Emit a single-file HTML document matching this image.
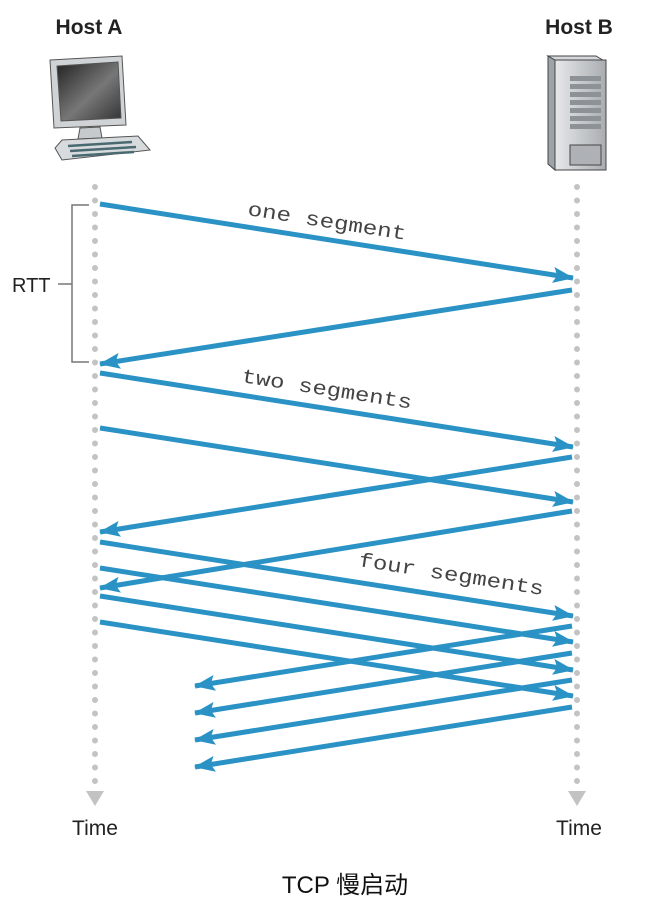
<!DOCTYPE html>
<html><head><meta charset="utf-8"><style>
html,body{margin:0;padding:0;background:#fff;}
svg{display:block;}
</style></head><body>
<svg width="646" height="915" viewBox="0 0 646 915" xmlns="http://www.w3.org/2000/svg">
<defs>
<marker id="ah" markerWidth="22" markerHeight="18" refX="20" refY="9" orient="auto" markerUnits="userSpaceOnUse">
<path d="M0,1 L21,9 L0,17 L4,9 Z" fill="#2a92c4"/>
</marker>
<linearGradient id="scr" x1="0" y1="0" x2="1" y2="1">
<stop offset="0" stop-color="#222"/><stop offset="0.55" stop-color="#777"/><stop offset="1" stop-color="#333"/>
</linearGradient>
<linearGradient id="srv" x1="0" y1="0" x2="1" y2="0">
<stop offset="0" stop-color="#e6e8ea"/><stop offset="1" stop-color="#a9adb1"/>
</linearGradient>
</defs>
<g font-family="'Liberation Sans', sans-serif">
<text x="89" y="34" font-size="21" font-weight="bold" text-anchor="middle" fill="#222">Host A</text>
<text x="579" y="34" font-size="21" font-weight="bold" text-anchor="middle" fill="#222">Host B</text>
</g>
<g stroke="#555" stroke-width="1">
<path d="M50,60 L122,56 L126,125 L54,128 Z" fill="#cfd3d6"/>
<path d="M57,66 L118,62 L121,118 L61,121 Z" fill="url(#scr)"/>
<path d="M80,128 L100,127 L102,138 L78,139 Z" fill="#c6cacd"/>
<path d="M62,140 L138,136 L150,150 L62,160 L55,148 Z" fill="#d8dbde"/>
</g>
<g stroke="#4a6a72" stroke-width="2.5">
<line x1="68" y1="146" x2="132" y2="142"/><line x1="70" y1="151" x2="136" y2="147"/><line x1="72" y1="156" x2="134" y2="152"/>
</g>
<g stroke="#444" stroke-width="1">
<path d="M548,56 L555,60 L555,170 L548,164 Z" fill="#9ea3a7"/>
<path d="M548,56 L596,56 L606,62 L555,60 Z" fill="#d5d8da"/>
<rect x="555" y="60" width="51" height="110" fill="url(#srv)"/>
<rect x="570" y="145" width="31" height="20" fill="#aeb2b6"/>
</g>
<g fill="#8d9296">
<rect x="570" y="76" width="31" height="5"/><rect x="570" y="84" width="31" height="5"/><rect x="570" y="92" width="31" height="5"/>
<rect x="570" y="100" width="31" height="5"/><rect x="570" y="108" width="31" height="5"/><rect x="570" y="116" width="31" height="5"/><rect x="570" y="124" width="31" height="5"/>
</g>
<line x1="95" y1="187" x2="95" y2="785" stroke="#c3c3c3" stroke-width="6" stroke-linecap="round" stroke-dasharray="0 13.5"/>
<line x1="577" y1="187" x2="577" y2="785" stroke="#c3c3c3" stroke-width="6" stroke-linecap="round" stroke-dasharray="0 13.5"/>
<path d="M86,791 L104,791 L95,806 Z" fill="#c3c3c3"/>
<path d="M568,791 L586,791 L577,806 Z" fill="#c3c3c3"/>
<path d="M89,205 L72,205 L72,362 L89,362 M58,284 L72,284" fill="none" stroke="#777" stroke-width="1.5"/>
<text x="12" y="292" font-family="'Liberation Sans', sans-serif" font-size="20" fill="#222">RTT</text>
<g stroke="#2a92c4" stroke-width="5" marker-end="url(#ah)" fill="none">
<line x1="100" y1="204" x2="573" y2="278"/>
<line x1="572" y1="290" x2="100" y2="364"/>
<line x1="100" y1="373" x2="573" y2="447"/>
<line x1="100" y1="428" x2="573" y2="502"/>
<line x1="572" y1="457" x2="100" y2="532"/>
<line x1="572" y1="511" x2="100" y2="588"/>
<line x1="100" y1="542" x2="573" y2="616"/>
<line x1="100" y1="568" x2="573" y2="642"/>
<line x1="100" y1="596" x2="573" y2="670"/>
<line x1="100" y1="622" x2="573" y2="696"/>
<line x1="572" y1="626" x2="195" y2="686"/>
<line x1="572" y1="653" x2="195" y2="713"/>
<line x1="572" y1="680" x2="195" y2="740"/>
<line x1="572" y1="707" x2="195" y2="767"/>
</g>
<g font-family="'Liberation Mono', monospace" font-size="20" fill="#444">
<text transform="translate(247,215) rotate(8.9)" textLength="160" lengthAdjust="spacingAndGlyphs">one segment</text>
<text transform="translate(241,382) rotate(8.9)" textLength="172" lengthAdjust="spacingAndGlyphs">two segments</text>
<text transform="translate(358,566) rotate(8.9)" textLength="187" lengthAdjust="spacingAndGlyphs">four segments</text>
</g>
<g font-family="'Liberation Sans', sans-serif" font-size="21" fill="#222" text-anchor="middle">
<text x="95" y="835">Time</text>
<text x="579" y="835">Time</text>
</g>
<text x="345" y="893" font-family="'Liberation Sans', 'Noto Sans CJK SC', sans-serif" font-size="24" fill="#111" text-anchor="middle">TCP 慢启动</text>
</svg>
</body></html>
